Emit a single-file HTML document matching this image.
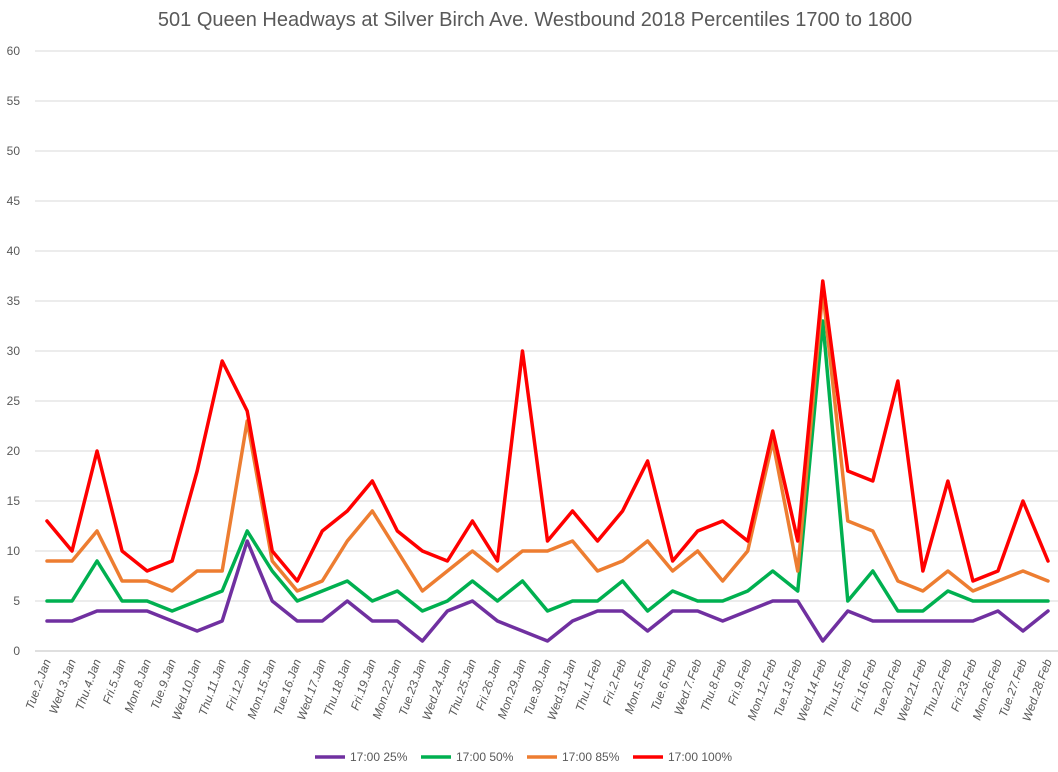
<!DOCTYPE html>
<html><head><meta charset="utf-8"><style>
body{margin:0;background:#fff;font-family:"Liberation Sans",sans-serif;}
svg{display:block}
</style></head><body>
<svg id="c" width="1058" height="772" xmlns="http://www.w3.org/2000/svg">
<text x="535" y="26" text-anchor="middle" font-size="20" fill="#595959">501 Queen Headways at Silver Birch Ave. Westbound 2018 Percentiles 1700 to 1800</text>
<g id="grid"></g><g id="xl"></g><g id="series"></g><g id="legend"></g>
</svg>
<script>
const categories=["Tue.2.Jan","Wed.3.Jan","Thu.4.Jan","Fri.5.Jan","Mon.8.Jan","Tue.9.Jan","Wed.10.Jan","Thu.11.Jan","Fri.12.Jan","Mon.15.Jan","Tue.16.Jan","Wed.17.Jan","Thu.18.Jan","Fri.19.Jan","Mon.22.Jan","Tue.23.Jan","Wed.24.Jan","Thu.25.Jan","Fri.26.Jan","Mon.29.Jan","Tue.30.Jan","Wed.31.Jan","Thu.1.Feb","Fri.2.Feb","Mon.5.Feb","Tue.6.Feb","Wed.7.Feb","Thu.8.Feb","Fri.9.Feb","Mon.12.Feb","Tue.13.Feb","Wed.14.Feb","Thu.15.Feb","Fri.16.Feb","Tue.20.Feb","Wed.21.Feb","Thu.22.Feb","Fri.23.Feb","Mon.26.Feb","Tue.27.Feb","Wed.28.Feb"];
const p25=[3,3,4,4,4,3,2,3,11,5,3,3,5,3,3,1,4,5,3,2,1,3,4,4,2,4,4,3,4,5,5,1,4,3,3,3,3,3,4,2,4];
const p50=[5,5,9,5,5,4,5,6,12,8,5,6,7,5,6,4,5,7,5,7,4,5,5,7,4,6,5,5,6,8,6,33,5,8,4,4,6,5,5,5,5];
const p85=[9,9,12,7,7,6,8,8,23,9,6,7,11,14,10,6,8,10,8,10,10,11,8,9,11,8,10,7,10,21,8,36,13,12,7,6,8,6,7,8,7];
const p100=[13,10,20,10,8,9,18,29,24,10,7,12,14,17,12,10,9,13,9,30,11,14,11,14,19,9,12,13,11,22,11,37,18,17,27,8,17,7,8,15,9];
const yTicks=[0,5,10,15,20,25,30,35,40,45,50,55,60];
const seriesNames=["17:00 25%","17:00 50%","17:00 85%","17:00 100%"];
const NS="http://www.w3.org/2000/svg";
const x=i=>47+i*(1001/(categories.length-1));
const y=v=>651-v*10;
function mk(t,a,p){const e=document.createElementNS(NS,t);for(const k in a)e.setAttribute(k,a[k]);p.appendChild(e);return e;}
const grid=document.getElementById('grid');
yTicks.forEach(v=>{
 const l=mk('line',{x1:35,x2:1058,y1:y(v),y2:y(v),stroke:v===0?'#bfbfbf':'#d9d9d9','stroke-width':1},grid);
 
 
 const t=mk('text',{x:20,y:y(v)+4,'text-anchor':'end','font-size':12,fill:'#595959'},grid);
 t.textContent=v;
 
 
});
const xl=document.getElementById('xl');
categories.forEach((c,i)=>{
 const t=mk('text',{transform:`translate(${x(i)+4},${661}) rotate(-70)`,'text-anchor':'end','font-size':12,'font-style':'italic',fill:'#595959'},xl);
 t.textContent=c;
 
 
});
const colors=["#7030a0","#00b050","#ed7d31","#ff0000"];
const data=[p25,p50,p85,p100];
const sg=document.getElementById('series');
data.forEach((d,s)=>{
 const p=mk('polyline',{points:d.map((v,i)=>x(i)+','+y(v)).join(' '),fill:'none',stroke:colors[s],'stroke-width':3.5,'stroke-linejoin':'round','stroke-linecap':'round'},sg);
 
 
});
const lg=document.getElementById('legend');
const lx=[315,421,527,633];
seriesNames.forEach((n,s)=>{
 const g=mk('g',{},lg);
 
 
 mk('line',{x1:lx[s],x2:lx[s]+30,y1:757,y2:757,stroke:colors[s],'stroke-width':3.5},g);
 const t=mk('text',{x:lx[s]+35,y:761,'font-size':12,fill:'#595959'},g);
 t.textContent=n;
});
</script>
</body></html>
